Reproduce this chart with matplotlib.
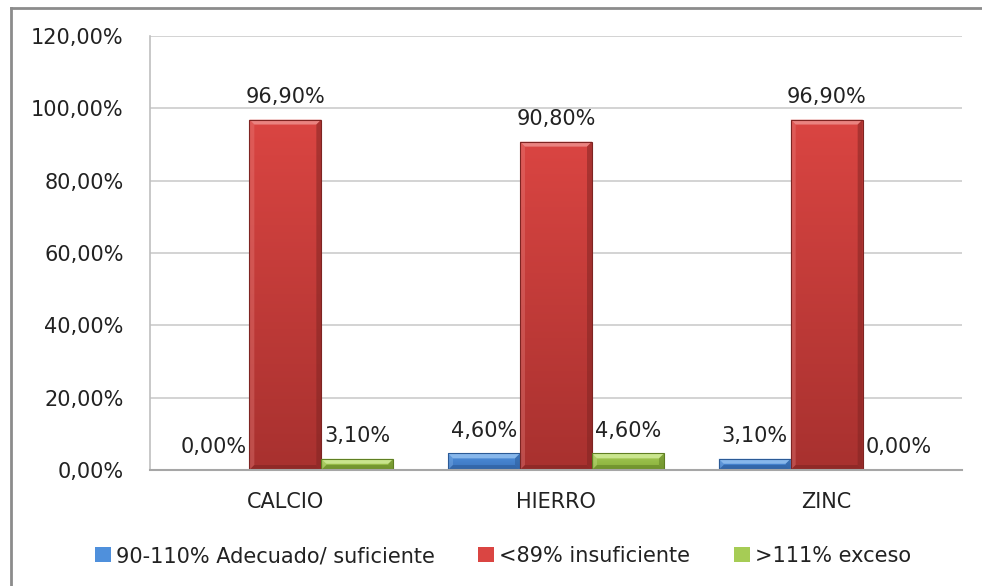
import numpy as np
import matplotlib
matplotlib.use("Agg")
import matplotlib.pyplot as plt
from matplotlib.patches import Polygon, Rectangle
from matplotlib.colors import to_rgb
from matplotlib.ticker import FuncFormatter

# Data
categories = ["CALCIO", "HIERRO", "ZINC"]
series_names = ["90-110% Adecuado/ suficiente", "<89% insuficiente", ">111% exceso"]
adecuado = [0.0, 4.6, 3.1]
insuficiente = [96.9, 90.8, 96.9]
exceso = [3.1, 4.6, 0.0]
y_ticks = [0, 20, 40, 60, 80, 100, 120]

series_values = [adecuado, insuficiente, exceso]
# (top colour, bottom colour, bevel light, bevel dark)
palette = [
    ("#4F90DC", "#3A73BD", "#93C0F0", "#2B5A96"),
    ("#DA4542", "#A8312F", "#EE8F8C", "#7E2422"),
    ("#A6CC55", "#86AC3A", "#D2EC9A", "#5F7F22"),
]

plt.rcParams["font.family"] = ["DejaVu Sans"]
TXT = "#222222"

fig = plt.figure(figsize=(9.82, 5.86), dpi=100)
fig.patch.set_facecolor("white")

# outer chart frame (top and left edges)
fig.add_artist(plt.Line2D([11 / 982, 11 / 982], [0, 1 - 8 / 586],
                          transform=fig.transFigure, color="#8C8C8C", lw=2))
fig.add_artist(plt.Line2D([11 / 982, 1], [1 - 8 / 586, 1 - 8 / 586],
                          transform=fig.transFigure, color="#8C8C8C", lw=2))

ax = fig.add_axes([150 / 982, 1 - 470 / 586, (962 - 150) / 982, (470 - 36) / 586])
ax.set_xlim(-0.5, len(categories) - 0.5)
ax.set_ylim(0, 120)

for s in ["top", "right"]:
    ax.spines[s].set_visible(False)
ax.spines["left"].set_color("#BFBFBF")
ax.spines["bottom"].set_color("#A6A6A6")
ax.spines["left"].set_linewidth(1.2)
ax.spines["bottom"].set_linewidth(1.5)

ax.set_yticks(y_ticks)
ax.yaxis.set_major_formatter(FuncFormatter(lambda v, p: f"{v:.2f}%".replace(".", ",")))
ax.grid(axis="y", color="#D0D0D0", lw=1.3)
ax.set_axisbelow(True)
ax.tick_params(axis="y", length=0, pad=19, labelsize=15, labelcolor=TXT)
ax.set_xticks(range(len(categories)))
ax.set_xticklabels(categories)
ax.tick_params(axis="x", length=0, pad=16, labelsize=15, labelcolor=TXT)

x = np.arange(len(categories))
width = 0.266
offsets = [-width, 0, width]

# pixel -> data scale for bevel sizes
px_x = 1.0 / ((962 - 150) / 3.0)
px_y = 120.0 / (470 - 36)
bev_x = 5 * px_x
bev_y = 5 * px_y

grad = np.linspace(0, 1, 256).reshape(-1, 1)

for k, (vals, name) in enumerate(zip(series_values, series_names)):
    top_c, bot_c, light_c, dark_c = palette[k]
    bars = ax.bar(x + offsets[k], vals, width, color=top_c, label=name,
                  edgecolor="none", zorder=2)
    t = np.array(to_rgb(top_c))
    b = np.array(to_rgb(bot_c))
    for bar, v in zip(bars, vals):
        x0, w, h = bar.get_x(), bar.get_width(), bar.get_height()
        if h <= 0:
            continue
        x1 = x0 + w
        # vertical gradient body
        img = (t[None, None, :] * (1 - grad[:, :, None]) + b[None, None, :] * grad[:, :, None])
        im = ax.imshow(img, extent=[x0, x1, 0, h], origin="upper", aspect="auto",
                       zorder=2.1, interpolation="bilinear")
        im.set_clip_path(bar)
        dy = min(bev_y, h / 2)
        dx = bev_x
        # top bevel (light)
        ax.add_patch(Polygon([(x0, h), (x1, h), (x1 - dx, h - dy), (x0 + dx, h - dy)],
                             closed=True, fc=light_c, ec="none", zorder=2.2, alpha=0.85))
        # left bevel
        ax.add_patch(Polygon([(x0, h), (x0 + dx, h - dy), (x0 + dx, dy), (x0, 0)],
                             closed=True, fc=light_c, ec="none", zorder=2.2, alpha=0.3))
        # right bevel (dark)
        ax.add_patch(Polygon([(x1, h), (x1 - dx, h - dy), (x1 - dx, dy), (x1, 0)],
                             closed=True, fc=dark_c, ec="none", zorder=2.2, alpha=0.5))
        # bottom bevel (dark)
        ax.add_patch(Polygon([(x0, 0), (x1, 0), (x1 - dx, dy), (x0 + dx, dy)],
                             closed=True, fc=dark_c, ec="none", zorder=2.2, alpha=0.55))
        ax.add_patch(Rectangle((x0, 0), w, h, fc="none", ec=dark_c, lw=0.8, zorder=2.3))
    for bar, v in zip(bars, vals):
        ax.annotate(f"{v:.2f}%".replace(".", ","),
                    (bar.get_x() + bar.get_width() / 2, bar.get_height()),
                    xytext=(0, 12), textcoords="offset points",
                    ha="center", va="baseline", fontsize=15, color=TXT, zorder=4)

handles, labels = ax.get_legend_handles_labels()
leg = fig.legend(handles, labels, loc="center", bbox_to_anchor=(503 / 982, 1 - 556 / 586),
                 ncol=3, frameon=False, fontsize=15, handlelength=0.75, handleheight=0.75,
                 handletextpad=0.25, columnspacing=2.1, labelcolor=TXT)

fig.savefig("out.png", dpi=100, facecolor="white")
